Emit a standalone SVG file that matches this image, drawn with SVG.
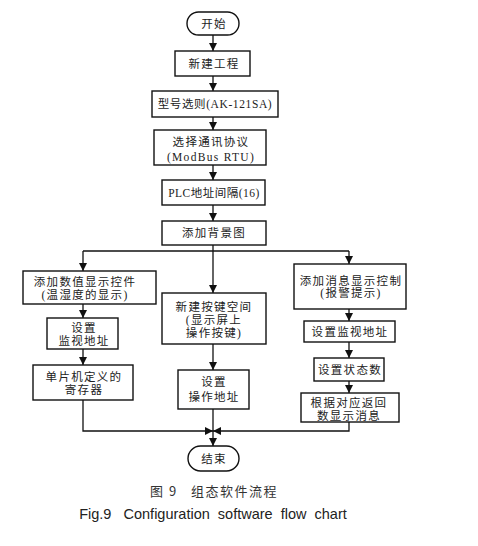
<svg xmlns="http://www.w3.org/2000/svg" width="478" height="546" viewBox="0 0 478 546">
<defs>
<marker id="ah" markerUnits="userSpaceOnUse" markerWidth="9" markerHeight="9" refX="8" refY="4" orient="auto">
<path d="M0,0 L8,4 L0,8 z" fill="#111"/>
</marker>
<style>
.box{fill:#fff;stroke:#111;stroke-width:1.4}
.t{font-family:"Liberation Serif","Noto Sans CJK SC",serif;font-size:11.5px;fill:#222;text-anchor:middle;dominant-baseline:central;letter-spacing:1.3px}
.c{fill:none;stroke:#111;stroke-width:1.3}
.a{marker-end:url(#ah)}
.cap{font-family:"Noto Sans CJK SC",sans-serif;font-size:13px;fill:#333;text-anchor:middle;dominant-baseline:central;letter-spacing:1.5px}
.capen{font-family:"Liberation Sans",Arial,sans-serif;font-size:14.5px;fill:#222;text-anchor:middle;dominant-baseline:central}
</style>
</defs>
<rect width="478" height="546" fill="#fff"/>
<g id="connectors">
<path class="c a" d="M213,35 V51"/>
<path class="c a" d="M213,76 V91"/>
<path class="c a" d="M213,117 V130"/>
<path class="c a" d="M213,165 V180"/>
<path class="c a" d="M213,205 V221"/>
<path class="c" d="M213,245 V251"/>
<path class="c" d="M83,251 H349"/>
<path class="c a" d="M83,251 V271"/>
<path class="c a" d="M83,304 V318"/>
<path class="c a" d="M83,349 V365"/>
<path class="c a" d="M213,251 V293"/>
<path class="c a" d="M213,344 V370"/>
<path class="c" d="M213,409 V431"/>
<path class="c a" d="M349,251 V264"/>
<path class="c a" d="M349,309 V321"/>
<path class="c a" d="M349,342 V358"/>
<path class="c a" d="M349,381 V393"/>
<path class="c a" d="M83,400 V431 H213"/>
<path class="c a" d="M349,422 V431 H213"/>
<path class="c a" d="M213,431 V446"/>
</g>
<g id="start"><rect class="box" x="187" y="12" width="52" height="23" rx="11.5"/><text class="t" x="214" y="24">开始</text></g>
<g id="n1"><rect class="box" x="175" y="51" width="75" height="25"/><text class="t" x="214" y="64">新建工程</text></g>
<g id="n2"><rect class="box" x="152" y="91" width="126" height="26"/><text class="t" x="215" y="104" style="letter-spacing:0.6px">型号选则(AK-121SA)</text></g>
<g id="n3"><rect class="box" x="154" y="130" width="112" height="35"/><text class="t" x="211" y="142">选择通讯协议</text><text class="t" x="211" y="157">(ModBus RTU)</text></g>
<g id="n4"><rect class="box" x="162" y="180" width="103" height="25"/><text class="t" x="214" y="193" style="letter-spacing:0.5px">PLC地址间隔(16)</text></g>
<g id="n5"><rect class="box" x="162" y="221" width="104" height="24"/><text class="t" x="214" y="233">添加背景图</text></g>
<g id="l1"><rect class="box" x="23" y="271" width="133" height="33"/><text class="t" x="85" y="282">添加数值显示控件</text><text class="t" x="85" y="295">(温湿度的显示)</text></g>
<g id="l2"><rect class="box" x="47" y="318" width="71" height="31"/><text class="t" x="84" y="328">设置</text><text class="t" x="84" y="341">监视地址</text></g>
<g id="l3"><rect class="box" x="33" y="365" width="100" height="35"/><text class="t" x="84" y="377">单片机定义的</text><text class="t" x="84" y="390">寄存器</text></g>
<g id="m1"><rect class="box" x="162" y="293" width="104" height="51"/><text class="t" x="214" y="307">新建按键空间</text><text class="t" x="214" y="320">(显示屏上</text><text class="t" x="214" y="333">操作按键)</text></g>
<g id="m2"><rect class="box" x="178" y="370" width="71" height="39"/><text class="t" x="214" y="382">设置</text><text class="t" x="214" y="397">操作地址</text></g>
<g id="r1"><rect class="box" x="294" y="264" width="112" height="45"/><text class="t" x="351" y="281">添加消息显示控制</text><text class="t" x="351" y="293">(报警提示)</text></g>
<g id="r2"><rect class="box" x="304" y="321" width="91" height="21"/><text class="t" x="350" y="332">设置监视地址</text></g>
<g id="r3"><rect class="box" x="314" y="358" width="70" height="23"/><text class="t" x="350" y="370">设置状态数</text></g>
<g id="r4"><rect class="box" x="301" y="393" width="98" height="29"/><text class="t" x="349" y="403">根据对应返回</text><text class="t" x="349" y="416">数显示消息</text></g>
<g id="end"><rect class="box" x="188" y="446" width="51" height="25" rx="12.5"/><text class="t" x="214" y="459">结束</text></g>
<text class="cap" x="214" y="490" xml:space="preserve">图 9   组态软件流程</text>
<text class="capen" x="213" y="514" xml:space="preserve">Fig.9   Configuration  software  flow  chart</text>
</svg>
